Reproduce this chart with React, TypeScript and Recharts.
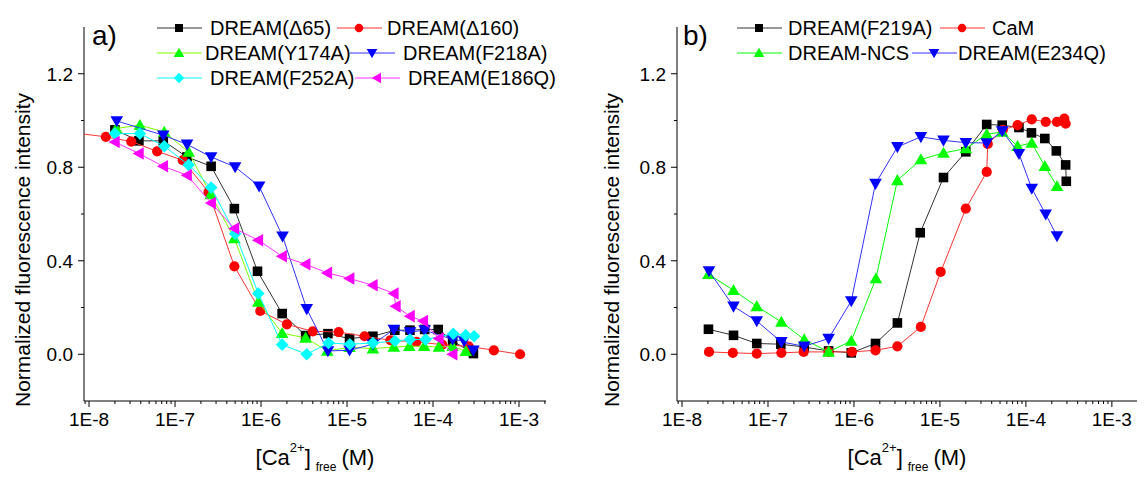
import React from 'react';
import { ScatterChart, Scatter, XAxis, YAxis } from 'recharts';

type Pt = [number, number];

// ---------- tick labels ----------
const xMajorTicks = [1e-8, 1e-7, 1e-6, 1e-5, 1e-4, 1e-3];
const xMinorMultipliers = [2, 3, 4, 5, 6, 7, 8, 9];
const yMajorTicks = [0, 0.4, 0.8, 1.2];
const yMinorTicks = [0.2, 0.6, 1.0];

// ---------- panel a) ----------
const dreamD65: Pt[] = [
  [2e-8, 0.96], [3.8e-8, 0.913], [7.3e-8, 0.913], [1.38e-7, 0.844], [2.63e-7, 0.804],
  [4.9e-7, 0.623], [9.1e-7, 0.355], [1.76e-6, 0.174], [3.3e-6, 0.08], [6e-6, 0.088],
  [1.07e-5, 0.067], [2e-5, 0.077], [3.6e-5, 0.103], [5.4e-5, 0.103], [8e-5, 0.106],
  [1.15e-4, 0.106], [1.69e-4, 0.057], [2.95e-4, 0.003],
];
const dreamD160: Pt[] = [
  [7.5e-9, 0.945], [1.57e-8, 0.93], [3.1e-8, 0.91], [6.2e-8, 0.868], [1.23e-7, 0.83],
  [2.45e-7, 0.694], [4.9e-7, 0.376], [9.8e-7, 0.185], [2e-6, 0.128], [4e-6, 0.098],
  [8e-6, 0.095], [1.6e-5, 0.077], [3.2e-5, 0.06], [6.4e-5, 0.053], [1.28e-4, 0.041],
  [2.6e-4, 0.034], [5.1e-4, 0.017], [1.03e-3, 0.0],
];
const dreamY174A: Pt[] = [
  [2.07e-8, 0.966], [3.9e-8, 0.98], [7.5e-8, 0.951], [1.44e-7, 0.865], [2.6e-7, 0.684],
  [4.9e-7, 0.495], [9.3e-7, 0.224], [1.76e-6, 0.09], [3.3e-6, 0.07], [5.9e-6, 0.014],
  [1.07e-5, 0.03], [2e-5, 0.024], [3.5e-5, 0.031], [5.3e-5, 0.034], [7.9e-5, 0.034],
  [1.17e-4, 0.031], [1.69e-4, 0.034], [2.4e-4, 0.013],
];
const dreamF218A: Pt[] = [
  [2.1e-8, 0.998], [7.3e-8, 0.937], [1.38e-7, 0.898], [2.63e-7, 0.844], [5e-7, 0.801],
  [9.5e-7, 0.719], [1.78e-6, 0.505], [3.4e-6, 0.194], [6e-6, 0.014], [1.07e-5, 0.017],
  [2e-5, 0.043], [3.5e-5, 0.106], [5.4e-5, 0.095], [8e-5, 0.103], [1.69e-4, 0.063],
  [2.3e-4, 0.057], [2.95e-4, 0.017],
];
const dreamF252A: Pt[] = [
  [2e-8, 0.944], [3.9e-8, 0.944], [7.5e-8, 0.89], [1.44e-7, 0.81], [2.63e-7, 0.713],
  [5e-7, 0.516], [9.3e-7, 0.26], [1.76e-6, 0.041], [3.4e-6, 0.0], [6.1e-6, 0.048],
  [1.08e-5, 0.043], [2e-5, 0.048], [3.6e-5, 0.057], [5.4e-5, 0.063], [8.2e-5, 0.063],
  [1.72e-4, 0.088], [2.4e-4, 0.081], [3e-4, 0.077],
];
const dreamE186Q: Pt[] = [
  [2e-8, 0.908], [3.8e-8, 0.859], [7.3e-8, 0.804], [1.38e-7, 0.766], [2.63e-7, 0.647],
  [4.9e-7, 0.538], [9.3e-7, 0.488], [1.76e-6, 0.419], [3.3e-6, 0.385], [5.9e-6, 0.348],
  [1.07e-5, 0.324], [2e-5, 0.295], [3.5e-5, 0.26], [3.7e-5, 0.205], [5.4e-5, 0.163],
  [7.7e-5, 0.142], [1.17e-4, 0.067], [1.69e-4, 0.0],
];

// ---------- panel b) ----------
const dreamF219A: Pt[] = [
  [2.03e-8, 0.107], [3.97e-8, 0.081], [7.4e-8, 0.046], [1.41e-7, 0.043], [2.64e-7, 0.031],
  [5.07e-7, 0.014], [9.3e-7, 0.006], [1.78e-6, 0.046], [3.2e-6, 0.134], [5.9e-6, 0.52],
  [1.1e-5, 0.756], [2e-5, 0.866], [3.5e-5, 0.983], [5.3e-5, 0.98], [8.3e-5, 0.97],
  [1.16e-4, 0.947], [1.66e-4, 0.923], [2.26e-4, 0.87], [2.9e-4, 0.81], [2.95e-4, 0.74],
];
const caM: Pt[] = [
  [2.06e-8, 0.01], [3.9e-8, 0.006], [7.4e-8, 0.003], [1.43e-7, 0.006], [2.6e-7, 0.01],
  [5.07e-7, 0.01], [9.5e-7, 0.01], [1.78e-6, 0.017], [3.2e-6, 0.034], [6e-6, 0.117],
  [1.02e-5, 0.352], [2e-5, 0.623], [3.5e-5, 0.78], [3.6e-5, 0.9], [5.4e-5, 0.96],
  [8e-5, 0.98], [1.17e-4, 1.005], [1.7e-4, 0.994], [2.3e-4, 0.994], [2.8e-4, 1.008],
  [2.9e-4, 0.987],
];
const dreamNCS: Pt[] = [
  [2.03e-8, 0.342], [3.97e-8, 0.274], [7.4e-8, 0.205], [1.43e-7, 0.138], [2.64e-7, 0.063],
  [5.07e-7, 0.01], [9.3e-7, 0.057], [1.8e-6, 0.324], [3.2e-6, 0.744], [6e-6, 0.833],
  [1.1e-5, 0.861], [2e-5, 0.88], [3.5e-5, 0.941], [5.3e-5, 0.951], [8e-5, 0.89],
  [1.17e-4, 0.904], [1.66e-4, 0.804], [2.3e-4, 0.719],
];
const dreamE234Q: Pt[] = [
  [2.06e-8, 0.356], [3.97e-8, 0.205], [7.4e-8, 0.142], [1.43e-7, 0.053], [2.64e-7, 0.034],
  [5.07e-7, 0.067], [9.3e-7, 0.228], [1.78e-6, 0.73], [3.2e-6, 0.887], [6e-6, 0.93],
  [1.1e-5, 0.915], [2e-5, 0.905], [3.5e-5, 0.904], [5.3e-5, 0.955], [8.3e-5, 0.858],
  [1.17e-4, 0.709], [1.7e-4, 0.599], [2.3e-4, 0.506],
];

// ---------- styling ----------
const FONT = '"Liberation Sans", Arial, sans-serif';

type MarkerKind = 'square' | 'circle' | 'up' | 'down' | 'diamond' | 'left';

interface SeriesDef {
  name: string;
  data: Pt[];
  color: string;
  lineColor: string;
  marker: MarkerKind;
}

const panelASeries: SeriesDef[] = [
  { name: 'DREAM(\u039465)', data: dreamD65, color: '#000000', lineColor: '#333333', marker: 'square' },
  { name: 'DREAM(\u0394160)', data: dreamD160, color: '#ff0000', lineColor: '#ff3333', marker: 'circle' },
  { name: 'DREAM(Y174A)', data: dreamY174A, color: '#00ff00', lineColor: '#80ff00', marker: 'up' },
  { name: 'DREAM(F218A)', data: dreamF218A, color: '#0000ff', lineColor: '#3333ff', marker: 'down' },
  { name: 'DREAM(F252A)', data: dreamF252A, color: '#00ffff', lineColor: '#00ffff', marker: 'diamond' },
  { name: 'DREAM(E186Q)', data: dreamE186Q, color: '#ff00ff', lineColor: '#ff33ff', marker: 'left' },
];

const panelBSeries: SeriesDef[] = [
  { name: 'DREAM(F219A)', data: dreamF219A, color: '#000000', lineColor: '#333333', marker: 'square' },
  { name: 'CaM', data: caM, color: '#ff0000', lineColor: '#ff3333', marker: 'circle' },
  { name: 'DREAM-NCS', data: dreamNCS, color: '#00ff00', lineColor: '#00ff00', marker: 'up' },
  { name: 'DREAM(E234Q)', data: dreamE234Q, color: '#0000ff', lineColor: '#3333ff', marker: 'down' },
];

function Marker({ kind, cx, cy, color, s }: { kind: MarkerKind; cx: number; cy: number; color: string; s: number }) {
  if (cx == null || cy == null || isNaN(cx) || isNaN(cy)) return null;
  switch (kind) {
    case 'square':
      return <rect x={cx - s * 0.8} y={cy - s * 0.8} width={s * 1.6} height={s * 1.6} fill={color} />;
    case 'circle':
      return <circle cx={cx} cy={cy} r={s * 0.85} fill={color} />;
    case 'up':
      return <polygon points={`${cx},${cy - s * 1.05} ${cx + s * 1.05},${cy + s * 0.8} ${cx - s * 1.05},${cy + s * 0.8}`} fill={color} />;
    case 'down':
      return <polygon points={`${cx},${cy + s * 1.05} ${cx + s * 1.05},${cy - s * 0.8} ${cx - s * 1.05},${cy - s * 0.8}`} fill={color} />;
    case 'diamond':
      return <polygon points={`${cx},${cy - s * 1.05} ${cx + s * 1.05},${cy} ${cx},${cy + s * 1.05} ${cx - s * 1.05},${cy}`} fill={color} />;
    case 'left':
      return <polygon points={`${cx - s * 1.05},${cy} ${cx + s * 0.8},${cy - s * 1.05} ${cx + s * 0.8},${cy + s * 1.05}`} fill={color} />;
  }
  return null;
}

const isMajorX = (v: number) => xMajorTicks.some((t) => Math.abs(Math.log10(t) - Math.log10(v)) < 1e-6);

function buildXTicks(lo: number, hi: number): number[] {
  const out: number[] = [];
  for (let d = -9; d <= -3; d++) {
    const base = Math.pow(10, d);
    if (base >= lo && base <= hi) out.push(base);
    for (const m of xMinorMultipliers) {
      const v = m * base;
      if (v >= lo && v <= hi) out.push(v);
    }
  }
  return out;
}

const XTick = (props: any) => {
  const { x, y, payload } = props;
  const v = payload.value as number;
  const major = isMajorX(v);
  return (
    <g>
      <line x1={x} x2={x} y1={y} y2={y + (major ? 6 : 3)} stroke="#000" strokeWidth={1} />
      {major && (
        <text x={x} y={y + 25} textAnchor="middle" fontSize={19} fontFamily={FONT} fill="#000">
          {`1E${Math.round(Math.log10(v))}`}
        </text>
      )}
    </g>
  );
};

const YTick = (props: any) => {
  const { x, y, payload } = props;
  const v = payload.value as number;
  const major = yMajorTicks.some((t) => Math.abs(t - v) < 1e-9);
  return (
    <g>
      <line x1={x} x2={x - (major ? 6 : 3)} y1={y} y2={y} stroke="#000" strokeWidth={1} />
      {major && (
        <text x={x - 11} y={y} dy="0.36em" textAnchor="end" fontSize={19} fontFamily={FONT} fill="#000">
          {v.toFixed(1)}
        </text>
      )}
    </g>
  );
};

function Panel({ left, rightMargin, domain, series }: { left: number; rightMargin: number; domain: [number, number]; series: SeriesDef[] }) {
  const xTicks = buildXTicks(domain[0], domain[1]);
  const yTicks = [...yMajorTicks, ...yMinorTicks].sort((a, b) => a - b);
  return (
    <div style={{ position: 'absolute', left, top: 0 }}>
      <ScatterChart width={560} height={477} margin={{ top: 27, right: rightMargin, bottom: 0, left: 0 }}>
        <XAxis
          dataKey="x"
          type="number"
          scale="log"
          domain={domain}
          allowDataOverflow
          ticks={xTicks}
          interval={0}
          tickSize={0}
          tickMargin={0}
          tickLine={false}
          tick={(p: any) => <XTick {...p} />}
          height={76}
          axisLine={{ stroke: '#000', strokeWidth: 1 }}
        />
        <YAxis
          dataKey="y"
          type="number"
          domain={[-0.2, 1.4]}
          allowDataOverflow
          ticks={yTicks}
          interval={0}
          tickSize={0}
          tickMargin={0}
          tickLine={false}
          tick={(p: any) => <YTick {...p} />}
          width={84}
          axisLine={{ stroke: '#000', strokeWidth: 1 }}
        />
        {series.map((s) => (
          <Scatter
            key={s.name}
            name={s.name}
            data={s.data.map(([x, y]) => ({ x, y }))}
            line={{ stroke: s.lineColor, strokeWidth: 1 }}
            lineType="joint"
            isAnimationActive={false}
            shape={(p: any) => <Marker kind={s.marker} cx={p.cx} cy={p.cy} color={s.color} s={6} />}
          />
        ))}
      </ScatterChart>
    </div>
  );
}

interface LegendItem {
  idx: number;
  x0: number;
  row: number;
  tx: number;
}

const legendA: LegendItem[] = [
  { idx: 0, x0: 157, row: 0, tx: 210 },
  { idx: 1, x0: 337, row: 0, tx: 387 },
  { idx: 2, x0: 157, row: 1, tx: 205 },
  { idx: 3, x0: 350, row: 1, tx: 403 },
  { idx: 4, x0: 157, row: 2, tx: 210 },
  { idx: 5, x0: 355, row: 2, tx: 408 },
];
const legendB: LegendItem[] = [
  { idx: 0, x0: 737, row: 0, tx: 788 },
  { idx: 1, x0: 940, row: 0, tx: 992 },
  { idx: 2, x0: 737, row: 1, tx: 788 },
  { idx: 3, x0: 912, row: 1, tx: 958 },
];
const legendRowY = [28, 53, 78];

function LegendGroup({ items, series }: { items: LegendItem[]; series: SeriesDef[] }) {
  return (
    <g>
      {items.map((it) => {
        const s = series[it.idx];
        const y = legendRowY[it.row];
        return (
          <g key={s.name}>
            <line x1={it.x0} x2={it.x0 + 45} y1={y} y2={y} stroke={s.lineColor} strokeWidth={1} />
            <Marker kind={s.marker} cx={it.x0 + 22} cy={y} color={s.color} s={5} />
            <text x={it.tx} y={y} dy="0.36em" fontSize={20} fontFamily={FONT} fill="#000">
              {s.name}
            </text>
          </g>
        );
      })}
    </g>
  );
}

function AxisTitleX({ cx }: { cx: number }) {
  return (
    <text x={cx} y={465} textAnchor="middle" fontSize={22} fontFamily={FONT} fill="#000">
      [Ca
      <tspan fontSize={13} dy={-13}>2+</tspan>
      <tspan dy={13}>]</tspan>
      <tspan fontSize={12} dy={6} dx={5}>free</tspan>
      <tspan dy={-6} dx={5}>(M)</tspan>
    </text>
  );
}

function AxisTitleY({ cx }: { cx: number }) {
  return (
    <text
      transform={`translate(${cx},250) rotate(-90)`}
      textAnchor="middle"
      dy="0.36em"
      fontSize={21}
      fontFamily={FONT}
      fill="#000"
    >
      Normalized fluorescence intensity
    </text>
  );
}

export default function App() {
  return (
    <div style={{ position: 'absolute', left: 0, top: 0, width: 1144, height: 477, background: '#fff', overflow: 'hidden' }}>
      <Panel left={0} rightMargin={14} domain={[8.74e-9, 2.06e-3]} series={panelASeries} />
      <Panel left={593} rightMargin={16} domain={[8.74e-9, 1.96e-3]} series={panelBSeries} />
      <svg width={1144} height={477} style={{ position: 'absolute', left: 0, top: 0, pointerEvents: 'none' }}>
        <text x={92} y={45} fontSize={28} fontFamily={FONT} fill="#000">a)</text>
        <text x={683} y={45} fontSize={28} fontFamily={FONT} fill="#000">b)</text>
        <LegendGroup items={legendA} series={panelASeries} />
        <LegendGroup items={legendB} series={panelBSeries} />
        <AxisTitleX cx={315} />
        <AxisTitleX cx={907} />
        <AxisTitleY cx={22} />
        <AxisTitleY cx={611} />
      </svg>
    </div>
  );
}
